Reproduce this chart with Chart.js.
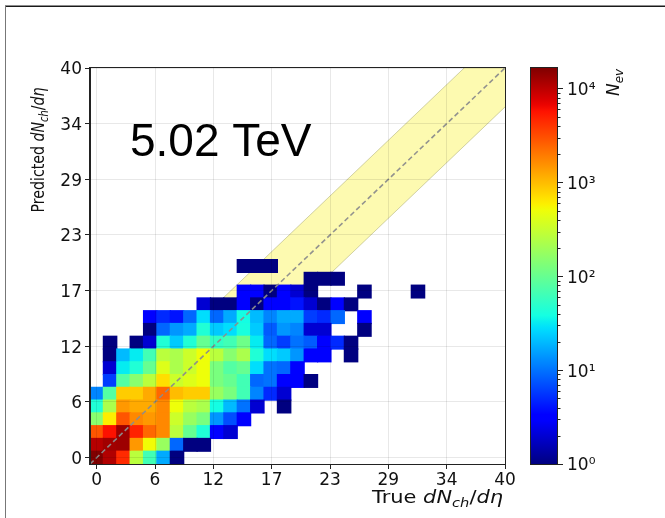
<!DOCTYPE html>
<html>
<head>
<meta charset="utf-8">
<script src="https://cdn.jsdelivr.net/npm/chart.js@4.4.1/dist/chart.umd.min.js"></script>
<style>
  html, body { margin: 0; padding: 0; background: #fff; }
  #wrap { position: relative; width: 665px; height: 518px; overflow: hidden; }
  #wrap canvas { position: absolute; left: 0; top: 0; }
</style>
</head>
<body>
<div id="wrap">
  <canvas id="main" width="665" height="518"></canvas>
  <canvas id="cbar" width="665" height="518"></canvas>
</div>
<script>
// ---------------- data ----------------
const AXIS_MAX = 40;                 // dN/deta axis end
const N_BINS = 31;                   // bins per axis
const BIN_W = AXIS_MAX / (N_BINS - 0.5);
const tickLabels = ['0', '6', '12', '17', '23', '29', '34', '40'];
const COLOR_MIN = 1;
const COLOR_MAX = 16600;
const cbarTicks = [1, 10, 100, 1000, 10000];
const cbarLabels = ['10\u2070', '10\u00B9', '10\u00B2', '10\u00B3', '10\u2074'];
const BAND_HALF = 4;                 // +/- band around the diagonal
const energyLabel = '5.02 TeV';
const energyPos = { x: 3.26, y: 30.97 };

// N_ev per cell; rowNN = predicted bin NN, entries = true bins 0,1,2,...
const row00 = [16600, 11000, 4500, 270, 65, 17, 1];
const row01 = [10500, 12500, 13000, 1450, 520, 180, 9, 1, 1];
const row02 = [2900, 5800, 13000, 4900, 2400, 1700, 270, 100, 44, 3, 2];
const row03 = [150, 600, 2900, 1700, 1450, 1700, 335, 180, 125, 14, 7, 3];
const row04 = [44, 225, 1450, 1200, 1200, 1700, 500, 270, 225, 38, 20, 10, 2, 0, 1];
const row05 = [12, 80, 850, 850, 1200, 2400, 1000, 850, 850, 180, 125, 65, 12, 5, 2];
const row06 = [0, 6, 80, 150, 270, 700, 335, 410, 500, 125, 100, 65, 9, 10, 3, 3, 1];
const row07 = [0, 2, 32, 44, 100, 410, 225, 335, 500, 125, 80, 100, 28, 10, 9, 3];
const row08 = [0, 1, 20, 32, 65, 270, 225, 335, 500, 270, 150, 225, 44, 28, 23, 14, 3, 3, 0, 1];
const row09 = [0, 1, 0, 1, 2, 44, 23, 44, 100, 55, 65, 110, 32, 9, 6, 10, 8, 3, 5, 1];
const row10 = [0, 0, 0, 0, 1, 9, 14, 17, 44, 23, 28, 40, 23, 8, 14, 12, 2, 2, 0, 0, 1];
const row11 = [0, 0, 0, 0, 3, 5, 4, 9, 28, 9, 17, 38, 20, 12, 17, 17, 6, 5, 9, 0, 3];
const row12 = [0, 0, 0, 0, 0, 0, 0, 0, 2, 1, 1, 3, 1, 3, 3, 4, 2, 1, 3, 1];
const row13 = [0, 0, 0, 0, 0, 0, 0, 0, 0, 0, 0, 3, 3, 1, 3, 2, 1, 0, 0, 0, 1, 0, 0, 0, 1];
const row14 = [0, 0, 0, 0, 0, 0, 0, 0, 0, 0, 0, 0, 0, 0, 0, 0, 1, 1, 1];
const row15 = [0, 0, 0, 0, 0, 0, 0, 0, 0, 0, 0, 1, 1, 1];
const rows = [row00, row01, row02, row03, row04, row05, row06, row07,
              row08, row09, row10, row11, row12, row13, row14, row15];

// ---------------- jet colormap (log norm) ----------------
const JR = [[0, 0], [0.35, 0], [0.66, 1], [0.89, 1], [1, 0.5]];
const JG = [[0, 0], [0.125, 0], [0.375, 1], [0.64, 1], [0.91, 0], [1, 0]];
const JB = [[0, 0.5], [0.11, 1], [0.34, 1], [0.65, 0], [1, 0]];
function seg(p, t) {
  for (let i = 0; i < p.length - 1; i++) {
    if (t <= p[i + 1][0]) {
      const f = (t - p[i][0]) / (p[i + 1][0] - p[i][0]);
      return p[i][1] + f * (p[i + 1][1] - p[i][1]);
    }
  }
  return p[p.length - 1][1];
}
function jet(t) {
  t = Math.max(0, Math.min(1, t));
  return 'rgb(' + Math.round(255 * seg(JR, t)) + ',' + Math.round(255 * seg(JG, t)) + ',' + Math.round(255 * seg(JB, t)) + ')';
}
function countColor(n) {
  return jet(Math.log10(n / COLOR_MIN) / Math.log10(COLOR_MAX / COLOR_MIN));
}

// ---------------- datasets ----------------
const cellDatasets = rows.map((row, j) => ({
  type: 'bar',
  data: row.map((n, k) => n > 0 ? { x: k * BIN_W, y: [(j - 0.5) * BIN_W, (j + 0.5) * BIN_W], n: n } : null)
           .filter(Boolean),
  backgroundColor: (c) => (c.raw && c.raw.n) ? countColor(c.raw.n) : 'rgba(0,0,0,0)',
  borderWidth: 0,
  grouped: false,
  barPercentage: 1,
  categoryPercentage: 1,
  inflateAmount: 0.6,
  order: 1
}));

const edgeX = [-BIN_W / 2, AXIS_MAX];
const bandLower = {
  type: 'line',
  data: edgeX.map(v => ({ x: v, y: v - BAND_HALF })),
  borderColor: 'rgba(175,175,120,0.7)', borderWidth: 0.8,
  pointRadius: 0, fill: false, order: 2
};
const bandUpper = {
  type: 'line',
  data: edgeX.map(v => ({ x: v, y: v + BAND_HALF })),
  borderColor: 'rgba(175,175,120,0.7)', borderWidth: 0.8,
  backgroundColor: 'rgb(253,250,176)',
  pointRadius: 0, fill: '-1', order: 2
};
const diagonal = {
  type: 'line',
  data: edgeX.map(v => ({ x: v, y: v })),
  borderColor: 'rgba(140,140,140,0.95)', borderWidth: 1.6, borderDash: [5, 3],
  pointRadius: 0, fill: false, order: 0
};

// ---------------- helpers ----------------
const FAM = '"DejaVu Sans", sans-serif';
function richWidth(ctx, segs, size) {
  let w = 0;
  for (const s of segs) {
    const fs = s.sub ? size * 0.7 : size;
    ctx.font = (s.it ? 'italic ' : '') + fs + 'px ' + FAM;
    w += ctx.measureText(s.t).width;
  }
  return w;
}
function drawRich(ctx, segs, x, y, size) {
  let cx = x;
  for (const s of segs) {
    const fs = s.sub ? size * 0.7 : size;
    ctx.font = (s.it ? 'italic ' : '') + fs + 'px ' + FAM;
    ctx.fillText(s.t, cx, y + (s.sub ? size * 0.22 : 0));
    cx += ctx.measureText(s.t).width;
  }
}
const xTitle = [{ t: 'True ' }, { t: 'dN', it: 1 }, { t: 'ch', it: 1, sub: 1 }, { t: '/' }, { t: 'd', it: 1 }, { t: '\u03B7', it: 1 }];
const yTitle = [{ t: 'Predicted ' }, { t: 'dN', it: 1 }, { t: 'ch', it: 1, sub: 1 }, { t: '/' }, { t: 'd', it: 1 }, { t: '\u03B7', it: 1 }];
const cbTitle = [{ t: 'N', it: 1 }, { t: 'ev', it: 1, sub: 1 }];

const mainDecor = {
  id: 'mainDecor',
  beforeDraw(chart) {
    const c = chart.ctx;
    c.save();
    c.fillStyle = '#fff';
    c.fillRect(0, 0, chart.width, chart.height);
    c.restore();
  },
  afterDraw(chart) {
    const { ctx, chartArea: a, scales: { x, y } } = chart;
    ctx.save();
    // outer figure frame
    ctx.strokeStyle = '#1a1a1a'; ctx.lineWidth = 1.5;
    ctx.beginPath(); ctx.moveTo(5, 6.25); ctx.lineTo(chart.width, 6.25); ctx.stroke();
    ctx.strokeStyle = '#777'; ctx.lineWidth = 1;
    ctx.beginPath(); ctx.moveTo(5.5, 6); ctx.lineTo(5.5, chart.height); ctx.stroke();
    // axes frame
    ctx.strokeStyle = '#222'; ctx.lineWidth = 1;
    ctx.strokeRect(a.left - 0.5, a.top - 0.5, a.right - a.left + 1, a.bottom - a.top + 1);
    // energy label
    ctx.fillStyle = '#000';
    ctx.font = '46px "Liberation Sans", Arial, sans-serif';
    ctx.textBaseline = 'alphabetic'; ctx.textAlign = 'left';
    ctx.fillText(energyLabel, x.getPixelForValue(energyPos.x), y.getPixelForValue(energyPos.y));
    // x title (right aligned)
    ctx.fillStyle = '#111';
    const size = 17;
    const wx = richWidth(ctx, xTitle, size);
    const sx = 131 / wx;
    ctx.save();
    ctx.translate(a.right - 2 - wx * sx, 503);
    ctx.scale(sx, 1);
    drawRich(ctx, xTitle, 0, 0, size);
    ctx.restore();
    // y title (rotated, centered)
    const wy = richWidth(ctx, yTitle, size);
    const sy = 125 / wy;
    ctx.save();
    ctx.translate(44, 150);
    ctx.rotate(-Math.PI / 2);
    ctx.scale(sy, 1);
    drawRich(ctx, yTitle, -wy / 2, 0, size);
    ctx.restore();
    ctx.restore();
  }
};

const GRID = 'rgba(0,0,0,0.09)';
const TICK_FONT = { family: 'DejaVu Sans', size: 17 };
function axisOpts(isX) {
  return {
    type: 'linear',
    min: -BIN_W / 2,
    max: AXIS_MAX,
    offset: false,
    grid: { offset: false, color: GRID, z: 1, drawTicks: true, tickLength: 5, tickColor: '#222', tickWidth: 1 },
    border: { display: true, color: '#222', z: 2 },
    ticks: {
      font: TICK_FONT, color: '#111', padding: isX ? 1 : 3,
      labelOffset: isX ? 0 : 2,
      autoSkip: false, maxRotation: 0, minRotation: 0,
      callback: (v, i) => tickLabels[i]
    },
    afterBuildTicks: (s) => {
      s.ticks = tickLabels.map((_, i) => ({ value: i * AXIS_MAX / (tickLabels.length - 1) }));
    },
    afterFit: (s) => { if (isX) s.height = 54; else s.width = 90; }
  };
}

new Chart(document.getElementById('main'), {
  type: 'bar',
  data: { datasets: [bandLower, bandUpper].concat(cellDatasets, [diagonal]) },
  options: {
    responsive: false,
    animation: false,
    events: [],
    layout: { padding: { left: 0, right: 160, top: 68, bottom: 0 } },
    plugins: { legend: { display: false }, tooltip: { enabled: false }, title: { display: false } },
    scales: { x: axisOpts(true), y: axisOpts(false) }
  },
  plugins: [mainDecor]
});

// ---------------- colour bar ----------------
function gradientFill(c) {
  const chart = c.chart;
  const a = chart.chartArea;
  if (!a) return 'rgba(0,0,0,0)';
  const g = chart.ctx.createLinearGradient(0, a.bottom, 0, a.top);
  for (let i = 0; i <= 64; i++) g.addColorStop(i / 64, jet(i / 64));
  return g;
}
const cbarDecor = {
  id: 'cbarDecor',
  afterDraw(chart) {
    const { ctx, chartArea: a, scales: { y } } = chart;
    ctx.save();
    ctx.strokeStyle = '#222'; ctx.lineWidth = 1;
    for (let d = 0; d < 5; d++) {
      for (let m = 2; m < 10; m++) {
        const v = m * Math.pow(10, d);
        if (v > COLOR_MAX) continue;
        const py = Math.round(y.getPixelForValue(v)) + 0.5;
        ctx.beginPath(); ctx.moveTo(a.right, py); ctx.lineTo(a.right + 3.5, py); ctx.stroke();
      }
    }
    ctx.strokeRect(a.left - 0.5, a.top - 0.5, a.right - a.left + 1, a.bottom - a.top + 1);
    ctx.fillStyle = '#111';
    const size = 17;
    const w = richWidth(ctx, cbTitle, size);
    ctx.translate(a.right + 62, a.top + 1);
    ctx.rotate(-Math.PI / 2);
    drawRich(ctx, cbTitle, -w, 0, size);
    ctx.restore();
  }
};

new Chart(document.getElementById('cbar'), {
  type: 'bar',
  data: {
    labels: ['N_ev'],
    datasets: [{
      data: [[COLOR_MIN, COLOR_MAX]],
      backgroundColor: gradientFill,
      borderWidth: 0,
      barPercentage: 1,
      categoryPercentage: 1,
      inflateAmount: 0
    }]
  },
  options: {
    responsive: false,
    animation: false,
    events: [],
    layout: { padding: { left: 531, right: 0, top: 68, bottom: 54 } },
    plugins: { legend: { display: false }, tooltip: { enabled: false } },
    scales: {
      x: { display: false },
      y: {
        type: 'logarithmic',
        position: 'right',
        min: COLOR_MIN,
        max: COLOR_MAX,
        grid: { drawOnChartArea: false, drawTicks: true, tickLength: 6, tickColor: '#222' },
        border: { display: false },
        ticks: { font: TICK_FONT, color: '#111', padding: 4, labelOffset: 2, autoSkip: false, callback: (v, i) => cbarLabels[i] },
        afterBuildTicks: (s) => { s.ticks = cbarTicks.map(v => ({ value: v })); },
        afterFit: (s) => { s.width = 108; }
      }
    }
  },
  plugins: [cbarDecor]
});
</script>
</body>
</html>
